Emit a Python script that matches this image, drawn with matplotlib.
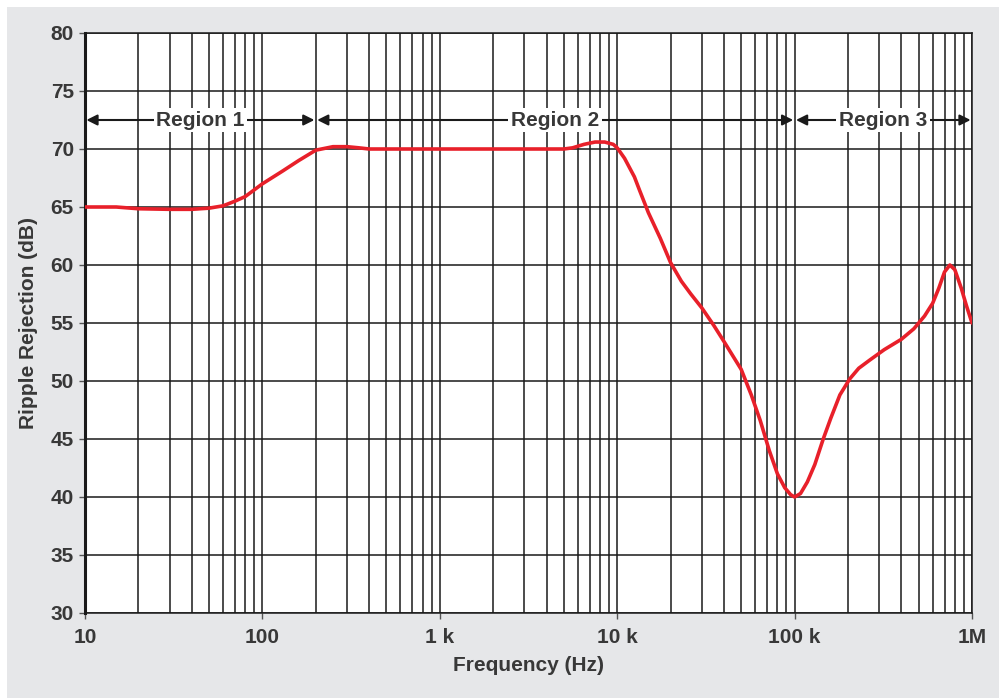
import matplotlib.pyplot as plt
from matplotlib.patches import Rectangle
from matplotlib.ticker import FixedLocator, NullFormatter

plt.rcParams['font.family'] = ['Liberation Sans', 'DejaVu Sans']
plt.rcParams['font.weight'] = 'bold'

# curve
freq = [10, 15, 20, 30, 40, 50, 60, 70, 80, 100, 130, 160, 200, 250, 300, 350, 400,
        1000, 3000, 5000, 5600, 6500, 7500, 8500, 9500, 10000, 11000, 12500, 13400,
        15000, 17500, 20000, 23000, 26000, 30000, 35000, 40000, 50000, 57000, 64000,
        72000, 80000, 88000, 95000, 100000, 108000, 118000, 130000, 145000, 160000,
        180000, 205000, 230000, 265000, 320000, 400000, 470000, 540000, 600000,
        650000, 700000, 750000, 800000, 870000, 930000, 1000000]
rej = [65.0, 65.0, 64.85, 64.8, 64.8, 64.9, 65.1, 65.5, 65.9, 67.0, 68.1, 69.0, 69.9,
       70.2, 70.2, 70.1, 70.0,
       70.0, 70.0, 70.0, 70.1, 70.4, 70.6, 70.6, 70.4, 70.1, 69.2, 67.6, 66.4,
       64.5, 62.3, 60.2, 58.6, 57.5, 56.3, 54.8, 53.4, 51.0, 48.8, 46.6,
       44.0, 42.0, 40.8, 40.2, 40.0, 40.3, 41.3, 42.8, 45.0, 46.8,
       48.8, 50.2, 51.1, 51.8, 52.7, 53.6, 54.5, 55.6, 56.7,
       58.0, 59.4, 60.0, 59.6, 58.0, 56.5, 55.0]

regions = ['Region 1', 'Region 2', 'Region 3']
region_edges = [(10, 200), (200, 100000), (100000, 1000000)]

xticks = [10, 100, 1000, 10000, 100000, 1000000]
xticklabels = ['10', '100', '1 k', '10 k', '100 k', '1M']
yticks = list(range(30, 81, 5))

txt = '#383838'
fs = 15

fig = plt.figure(figsize=(9.99, 6.98), dpi=100)
fig.patch.set_facecolor('white')
fig.patches.append(Rectangle((7 / 999, 0), 1, 1 - 7 / 698, transform=fig.transFigure,
                             facecolor='#e6e7e9', edgecolor='none', zorder=-10))

ax = fig.add_axes([85 / 999, 1 - 613 / 698, (972 - 85) / 999, (613 - 33) / 698])
ax.set_zorder(2)
ax.set_facecolor('white')
ax.set_xscale('log')
ax.set_xlim(10, 1e6)
ax.set_ylim(30, 80)

ax.set_xticks(xticks)
ax.set_xticklabels(xticklabels)
minors = [m * 10 ** d for d in range(1, 6) for m in range(2, 10)]
ax.xaxis.set_minor_locator(FixedLocator(minors))
ax.xaxis.set_minor_formatter(NullFormatter())
ax.set_yticks(yticks)

ax.grid(True, which='both', axis='x', color='#1a1a1a', lw=1.1)
ax.grid(True, which='major', axis='y', color='#1a1a1a', lw=1.1)
ax.tick_params(axis='both', which='major', length=4, width=1, colors='#555555',
               labelcolor=txt, labelsize=fs)
ax.tick_params(axis='y', which='major', pad=4)
ax.tick_params(axis='x', which='minor', length=0)
ax.tick_params(axis='x', which='major', pad=7)
for s in ax.spines.values():
    s.set_color('#1a1a1a')
    s.set_linewidth(1.1)
ax.spines['left'].set_linewidth(2.2)

ax.plot(freq, rej, color='#e8202a', lw=2.6, zorder=5, solid_capstyle='round')

for name, (a, b) in zip(regions, region_edges):
    ax.annotate('', xy=(a, 72.5), xytext=(b, 72.5),
                arrowprops=dict(arrowstyle='<|-|>', color='#1a1a1a', lw=1.5,
                                mutation_scale=16, shrinkA=1, shrinkB=1), zorder=6)
    ax.text((a * b) ** 0.5, 72.5, name, ha='center', va='center', fontsize=fs,
            fontweight='bold', color=txt, zorder=7,
            bbox=dict(facecolor='white', edgecolor='none', pad=2))

ax.set_xlabel('Frequency (Hz)', fontsize=fs, fontweight='bold', color=txt, labelpad=6)
ax.set_ylabel('Ripple Rejection (dB)', fontsize=fs, fontweight='bold', color=txt, labelpad=9)

fig.savefig('out.png', dpi=100)
